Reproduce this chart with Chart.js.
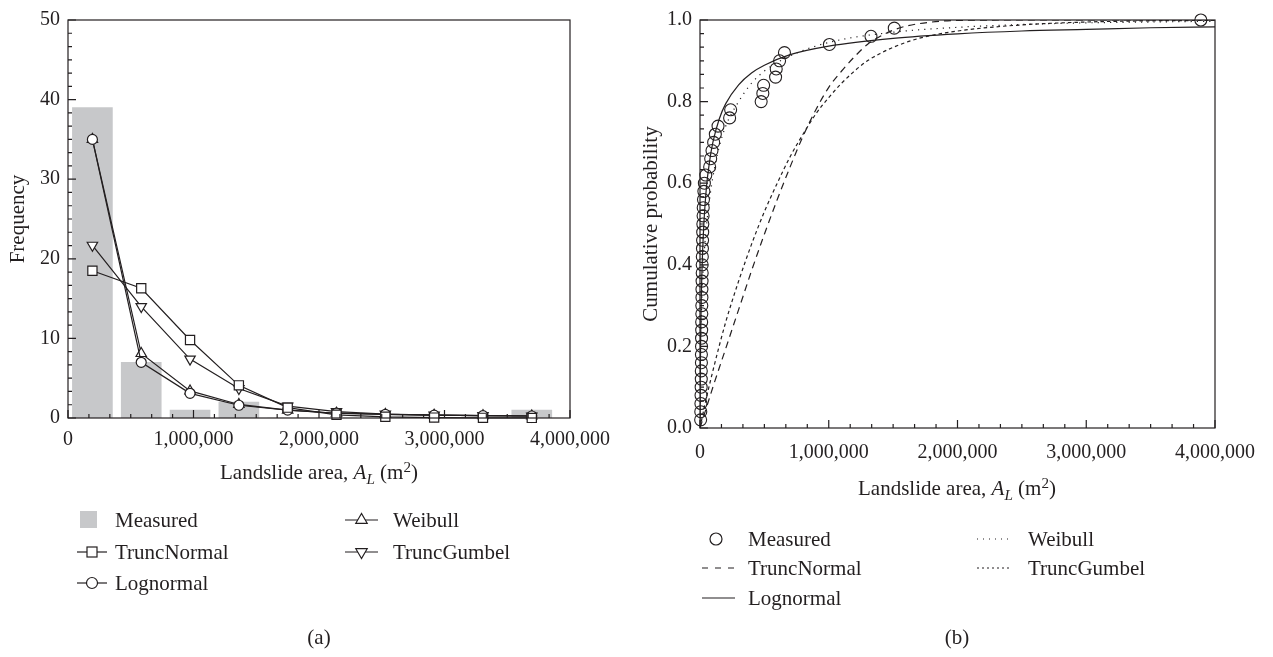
<!DOCTYPE html>
<html>
<head>
<meta charset="utf-8">
<script src="https://cdn.jsdelivr.net/npm/chart.js@4.4.0/dist/chart.umd.min.js"></script>
<style>
  body { margin: 0; background: #fff; width: 1273px; height: 657px; position: relative; overflow: hidden;
         font-family: 'Liberation Serif', serif; color: #231f20; }
  canvas { position: absolute; top: 0; }
  #chartA { left: 0; }
  #chartB { left: 630px; }
  #legendMarks { position: absolute; left: 0; top: 0; }
  .t { position: absolute; font-size: 21px; line-height: 1; white-space: nowrap; transform: translateY(-50%); }
  .c { transform: translate(-50%, -50%); }
  .sub { font-size: 0.72em; position: relative; top: 0.3em; }
  .sup { font-size: 0.72em; position: relative; top: -0.45em; }
</style>
</head>
<body>
<canvas id="chartA" width="620" height="460"></canvas>
<canvas id="chartB" width="643" height="470"></canvas>

<svg id="legendMarks" width="1273" height="657" fill="none" stroke="#231f20" stroke-width="1.2">
  <!-- (a) -->
  <rect x="80" y="511" width="17" height="17" fill="#c7c8ca" stroke="none"/>
  <line x1="77" y1="552" x2="107" y2="552"/>
  <rect x="87" y="547" width="10" height="10" fill="#fff"/>
  <line x1="77" y1="583" x2="107" y2="583"/>
  <circle cx="92" cy="583" r="5.5" fill="#fff"/>
  <line x1="345" y1="520" x2="378" y2="520"/>
  <polygon points="361.5,513.5 355.8,523.3 367.2,523.3" fill="#fff"/>
  <line x1="345" y1="552" x2="378" y2="552"/>
  <polygon points="361.5,558.5 355.8,548.7 367.2,548.7" fill="#fff"/>
  <!-- (b) -->
  <circle cx="716" cy="539" r="6"/>
  <line x1="702" y1="568" x2="735" y2="568" stroke-dasharray="6 7"/>
  <line x1="702" y1="598" x2="735" y2="598"/>
  <line x1="977" y1="539" x2="1010" y2="539" stroke-dasharray="1 5"/>
  <line x1="977" y1="568" x2="1010" y2="568" stroke-dasharray="2 3"/>
</svg>

<div class="t c" style="left:319px; top:472px">Landslide area, <i>A<span class="sub">L</span></i> (m<span class="sup">2</span>)</div>
<div class="t c" style="left:957px; top:488px">Landslide area, <i>A<span class="sub">L</span></i> (m<span class="sup">2</span>)</div>

<div class="t" style="left:115px; top:520px">Measured</div>
<div class="t" style="left:115px; top:552px">TruncNormal</div>
<div class="t" style="left:115px; top:583px">Lognormal</div>
<div class="t" style="left:393px; top:520px">Weibull</div>
<div class="t" style="left:393px; top:552px">TruncGumbel</div>

<div class="t" style="left:748px; top:539px">Measured</div>
<div class="t" style="left:748px; top:568px">TruncNormal</div>
<div class="t" style="left:748px; top:598px">Lognormal</div>
<div class="t" style="left:1028px; top:539px">Weibull</div>
<div class="t" style="left:1028px; top:568px">TruncGumbel</div>

<div class="t c" style="left:319px; top:637px">(a)</div>
<div class="t c" style="left:957px; top:637px">(b)</div>

<script>
// (a) frequency histogram, bin centres in m2
const binCenters = [194500, 583500, 972500, 1361500, 1750500, 2139500, 2528500, 2917500, 3306500, 3695500];
const measuredFreq = [39, 7, 1, 2, 0, 0, 0, 0, 0, 1];
const truncNormalFreq = [18.5, 16.3, 9.8, 4.1, 1.3, 0.4, 0.15, 0.05, 0.02, 0.01];
const lognormalFreq = [35, 7.0, 3.1, 1.6, 1.0, 0.6, 0.45, 0.35, 0.3, 0.25];
const weibullFreq = [35, 8.1, 3.4, 1.7, 1.0, 0.6, 0.45, 0.35, 0.3, 0.25];
const truncGumbelFreq = [21.7, 14.0, 7.4, 3.7, 1.5, 0.8, 0.5, 0.35, 0.3, 0.25];

// (b) cumulative probability
const cdfArea = [5000, 6000, 7000, 8000, 9000, 10000, 10000, 11000, 11000, 12000,
                 12000, 13000, 13000, 14000, 14000, 15000, 15000, 16000, 17000, 17000,
                 18000, 19000, 20000, 21000, 22000, 24000, 25000, 27000, 30000, 34000,
                 45000, 75000, 83000, 93000, 106000, 119000, 140000, 230000, 238000, 475000,
                 488000, 494000, 587000, 592000, 618000, 656000, 1005000, 1328000, 1509000, 3890000];
const cdfProb = [0.02, 0.04, 0.06, 0.08, 0.10, 0.12, 0.14, 0.16, 0.18, 0.20,
                 0.22, 0.24, 0.26, 0.28, 0.30, 0.32, 0.34, 0.36, 0.38, 0.40,
                 0.42, 0.44, 0.46, 0.48, 0.50, 0.52, 0.54, 0.56, 0.58, 0.60,
                 0.62, 0.64, 0.66, 0.68, 0.70, 0.72, 0.74, 0.76, 0.78, 0.80,
                 0.82, 0.84, 0.86, 0.88, 0.90, 0.92, 0.94, 0.96, 0.98, 1.00];

const truncNormalX = [0, 40000, 100000, 200000, 300000, 400000, 500000, 600000, 700000, 800000, 900000, 1000000,
                      1100000, 1200000, 1300000, 1400000, 1500000, 1600000, 1800000, 2000000, 2500000, 3000000, 4000000];
const truncNormalP = [0, 0.04, 0.10, 0.195, 0.29, 0.385, 0.475, 0.56, 0.64, 0.715, 0.78, 0.835,
                      0.875, 0.91, 0.94, 0.96, 0.975, 0.985, 0.995, 0.999, 1, 1, 1];

const lognormalX = [0, 1000, 2000, 5000, 10000, 20000, 30000, 50000, 75000, 100000, 150000, 200000,
                    300000, 400000, 500000, 700000, 1000000, 1500000, 2000000, 2500000, 3000000, 3500000, 4000000];
const lognormalP = [0, 0.07, 0.12, 0.22, 0.32, 0.43, 0.50, 0.59, 0.655, 0.70, 0.758, 0.795,
                    0.841, 0.87, 0.889, 0.915, 0.936, 0.955, 0.966, 0.973, 0.977, 0.981, 0.983];

const weibullX = [0, 2000, 5000, 10000, 20000, 40000, 70000, 100000, 150000, 200000, 300000,
                  400000, 500000, 700000, 1000000, 1500000, 2000000, 2500000, 3000000, 3500000, 4000000];
const weibullP = [0, 0.13, 0.20, 0.27, 0.36, 0.46, 0.55, 0.615, 0.69, 0.74, 0.80,
                  0.845, 0.875, 0.912, 0.945, 0.97, 0.982, 0.989, 0.993, 0.995, 0.997];

const truncGumbelX = [0, 40000, 100000, 200000, 300000, 400000, 500000, 600000, 700000, 800000, 900000, 1000000,
                      1100000, 1200000, 1300000, 1400000, 1500000, 1700000, 2000000, 2500000, 3000000, 3500000, 4000000];
const truncGumbelP = [0, 0.06, 0.14, 0.26, 0.36, 0.45, 0.53, 0.60, 0.665, 0.72, 0.77, 0.81,
                      0.845, 0.875, 0.90, 0.918, 0.933, 0.955, 0.973, 0.988, 0.995, 0.998, 0.999];

const ink = '#231f20';
Chart.defaults.font.family = "'Liberation Serif', serif";
Chart.defaults.font.size = 20;
Chart.defaults.color = ink;

const toPoints = (xs, ys) => xs.map((x, i) => ({ x: x, y: ys[i] }));

// box frame plus inward major/minor ticks on left and bottom
const frameTicks = {
  id: 'frameTicks',
  afterDatasetsDraw(chart, args, opts) {
    const { ctx, chartArea: a, scales: { x, y } } = chart;
    ctx.save();
    ctx.strokeStyle = ink;
    ctx.lineWidth = 1.2;
    ctx.strokeRect(a.left, a.top, a.right - a.left, a.bottom - a.top);
    ctx.beginPath();
    const nx = Math.round((x.max - x.min) / opts.xStep * 6);
    for (let i = 0; i <= nx; i++) {
      const px = x.getPixelForValue(x.min + i * opts.xStep / 6);
      ctx.moveTo(px, a.bottom);
      ctx.lineTo(px, a.bottom - (i % 6 === 0 ? 8 : 4));
    }
    const ny = Math.round((y.max - y.min) / opts.yStep * 6);
    for (let i = 0; i <= ny; i++) {
      const py = y.getPixelForValue(y.min + i * opts.yStep / 6);
      ctx.moveTo(a.left, py);
      ctx.lineTo(a.left + (i % 6 === 0 ? 8 : 4), py);
    }
    ctx.stroke();
    ctx.restore();
  }
};

function axes(xOpts, yOpts) {
  return {
    x: Object.assign({
      type: 'linear', min: 0, max: 4000000, offset: false,
      grid: { display: false, drawTicks: false }, border: { display: false }
    }, xOpts),
    y: Object.assign({
      type: 'linear', min: 0,
      grid: { display: false, drawTicks: false }, border: { display: false }
    }, yOpts)
  };
}

function fitSet(label, values, style, radius, rotation) {
  return {
    type: 'line', label: label, data: toPoints(binCenters, values),
    borderColor: ink, borderWidth: 1.2, backgroundColor: '#fff',
    pointStyle: style, pointRadius: radius, pointRotation: rotation,
    pointBorderWidth: 1.2, pointBorderColor: ink, pointBackgroundColor: '#fff',
    order: 1, clip: false
  };
}

new Chart(document.getElementById('chartA'), {
  type: 'line',
  data: {
    datasets: [
      { type: 'bar', label: 'Measured', data: toPoints(binCenters, measuredFreq),
        backgroundColor: '#c7c8ca', barThickness: 40, order: 5 },
      fitSet('TruncNormal', truncNormalFreq, 'rect', 6.5, 0),
      fitSet('Lognormal', lognormalFreq, 'circle', 5, 0),
      fitSet('Weibull', weibullFreq, 'triangle', 6, 0),
      fitSet('TruncGumbel', truncGumbelFreq, 'triangle', 6, 180)
    ]
  },
  options: {
    responsive: false, animation: false, events: [],
    layout: { padding: { top: 14, right: 50, left: 0, bottom: 0 } },
    plugins: { legend: { display: false }, tooltip: { enabled: false }, frameTicks: { xStep: 1000000, yStep: 10 } },
    scales: axes(
      { afterFit: s => { s.height = 42; }, ticks: { stepSize: 1000000, maxRotation: 0, padding: 10,
        callback: v => v.toLocaleString('en-US') } },
      { max: 50, ticks: { stepSize: 10, padding: 8 },
        title: { display: true, text: 'Frequency', font: { size: 21 }, padding: { top: 6, bottom: 0 } },
        afterFit: s => { s.width = 68; } }
    )
  },
  plugins: [frameTicks]
});

function curveSet(label, xs, ys, dash) {
  return {
    type: 'line', label: label, data: toPoints(xs, ys),
    borderColor: ink, borderWidth: 1.2, borderDash: dash,
    pointRadius: 0, cubicInterpolationMode: 'monotone', fill: false
  };
}

new Chart(document.getElementById('chartB'), {
  type: 'line',
  data: {
    datasets: [
      { type: 'line', label: 'Measured', data: toPoints(cdfArea, cdfProb), showLine: false,
        pointStyle: 'circle', pointRadius: 6, pointBorderWidth: 1.1, pointBorderColor: ink,
        pointBackgroundColor: 'rgba(0,0,0,0)', clip: false },
      curveSet('TruncNormal', truncNormalX, truncNormalP, [7, 5]),
      curveSet('Lognormal', lognormalX, lognormalP, []),
      curveSet('Weibull', weibullX, weibullP, [1.2, 5]),
      curveSet('TruncGumbel', truncGumbelX, truncGumbelP, [3.5, 3])
    ]
  },
  options: {
    responsive: false, animation: false, events: [],
    layout: { padding: { top: 14, right: 58, left: 0, bottom: 0 } },
    plugins: { legend: { display: false }, tooltip: { enabled: false }, frameTicks: { xStep: 1000000, yStep: 0.2 } },
    scales: axes(
      { afterFit: s => { s.height = 42; }, ticks: { stepSize: 1000000, maxRotation: 0, padding: 13,
        callback: v => v.toLocaleString('en-US') } },
      { max: 1, ticks: { stepSize: 0.2, padding: 8, callback: v => v.toFixed(1) },
        title: { display: true, text: 'Cumulative probability', font: { size: 21 }, padding: { top: 9, bottom: 0 } },
        afterFit: s => { s.width = 70; } }
    )
  },
  plugins: [frameTicks]
});
</script>
</body>
</html>
